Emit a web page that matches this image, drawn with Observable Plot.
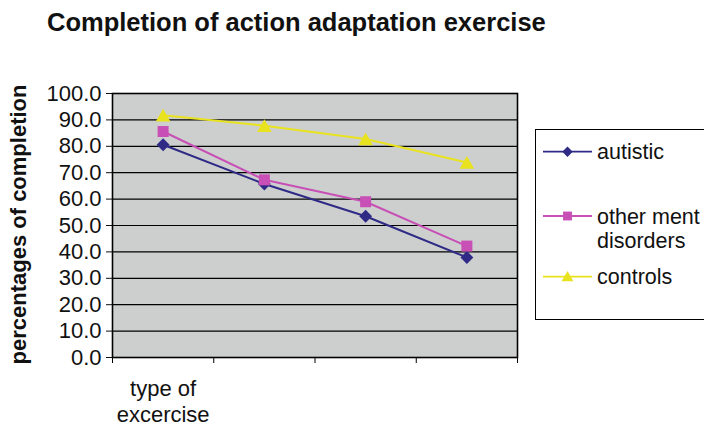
<!DOCTYPE html>
<html>
<head>
<meta charset="utf-8">
<script src="https://cdn.jsdelivr.net/npm/d3@7"></script>
<script src="https://cdn.jsdelivr.net/npm/@observablehq/plot@0.6"></script>
<style>
  html, body { margin: 0; padding: 0; background: #fff; overflow: hidden; }
  body { width: 704px; height: 430px; position: relative; font-family: "Liberation Sans", Arial, sans-serif; }
  #title { position: absolute; left: 47px; top: 10px; font-size: 25.5px; font-weight: bold; line-height: 1; white-space: nowrap; color: #111; }
  #chart { position: absolute; left: 0; top: 0; }
  #legend { position: absolute; left: 535px; top: 129px; }
</style>
</head>
<body>
<div id="chart"></div>
<div id="title">Completion of action adaptation exercise</div>
<div id="legend"></div>
<script>
const titleText = "Completion of action adaptation exercise";
const yLabel = "percentages of completion";
const categories = ["type of\nexcercise", "", "", ""];
const seriesNames = ["autistic", "other ment\ndisorders", "controls"];
const autistic = [80.6, 65.7, 53.5, 37.9];
const otherDisorders = [85.6, 67.3, 59.0, 42.2];
const controls = [91.8, 87.8, 82.8, 73.9];
const yTicks = [0, 10, 20, 30, 40, 50, 60, 70, 80, 90, 100];

const colors = ["#2e2a86", "#c84fb6", "#e8e21f"];
const symbols = ["diamond2", "square2", "triangle2"];
const radii = [5.8, 7, 7];
const dys = [0, 0, 2];

const seriesValues = [autistic, otherDisorders, controls];
const rows = [];
seriesValues.forEach((vals, s) => vals.forEach((v, i) => rows.push({series: s, xi: i + 0.5, value: v})));
const catRows = categories.map((c, i) => ({xi: i + 0.5, label: c}));

const marks = [
  Plot.frame({fill: "#cdcfce"}),
  Plot.ruleY(yTicks.slice(1, -1), {stroke: "#000", strokeWidth: 1.2}),
  Plot.axisY({ticks: yTicks, tickFormat: d => d.toFixed(1), tickSize: 6, tickPadding: 5, fontSize: 22, label: null, color: "#111"}),
  Plot.axisX({ticks: [0, 1, 2, 3, 4], tickFormat: () => "", tickSize: 6, label: null}),
  Plot.text(catRows, {x: "xi", y: 0, text: "label", dy: 21, lineAnchor: "top", lineHeight: 1.15, fontSize: 22, fill: "#111"}),
  Plot.text([yLabel], {frameAnchor: "left", dx: -94, dy: -1, rotate: -90, textAnchor: "middle", text: d => d, fontSize: 22, fontWeight: "bold", fill: "#111"})
];
seriesValues.forEach((vals, s) => {
  const data = rows.filter(r => r.series === s);
  marks.push(Plot.line(data, {x: "xi", y: "value", stroke: colors[s], strokeWidth: 2}));
  marks.push(Plot.dot(data, {x: "xi", y: "value", symbol: symbols[s], r: radii[s], fill: colors[s], stroke: "none", dy: dys[s]}));
});
marks.push(Plot.frame({stroke: "#000", strokeWidth: 1.6}));

const chart = Plot.plot({
  width: 704,
  height: 430,
  marginLeft: 112,
  marginRight: 187,
  marginTop: 93,
  marginBottom: 73,
  style: {fontFamily: "'Liberation Sans', Arial, sans-serif", fontSize: "22px", background: "transparent", overflow: "visible"},
  x: {domain: [0, categories.length], axis: null},
  y: {domain: [0, 100], axis: null},
  marks
});
document.getElementById("chart").appendChild(chart);

// Legend
const lw = 180, lh = 191;
const svg = d3.create("svg").attr("width", lw).attr("height", lh).style("overflow", "visible");
svg.append("rect").attr("x", 0.5).attr("y", 0.5).attr("width", lw).attr("height", lh - 1)
  .attr("fill", "#fff").attr("stroke", "#000").attr("stroke-width", 1);
const rowY = [22.7, 87, 147.7];
const symMap = {diamond2: d3.symbolDiamond2, square2: d3.symbolSquare2, triangle2: d3.symbolTriangle2};
seriesNames.forEach((name, s) => {
  const g = svg.append("g").attr("transform", `translate(0,${rowY[s]})`);
  g.append("line").attr("x1", 8).attr("x2", 57).attr("y1", 0).attr("y2", 0).attr("stroke", colors[s]).attr("stroke-width", 1.8);
  g.append("path").attr("transform", `translate(32.5,${dys[s] * 0.6})`)
    .attr("d", d3.symbol(symMap[symbols[s]], Math.PI * radii[s] * radii[s] * 0.65)())
    .attr("fill", colors[s]);
  const t = g.append("text").attr("x", 62).attr("y", 0).attr("font-size", 21.5).attr("fill", "#111")
    .attr("font-family", "'Liberation Sans', Arial, sans-serif");
  name.split("\n").forEach((ln, k) => {
    t.append("tspan").attr("x", 62).attr("dy", k === 0 ? "0.35em" : "24px").text(ln);
  });
});
document.getElementById("legend").appendChild(svg.node());
</script>
</body>
</html>
